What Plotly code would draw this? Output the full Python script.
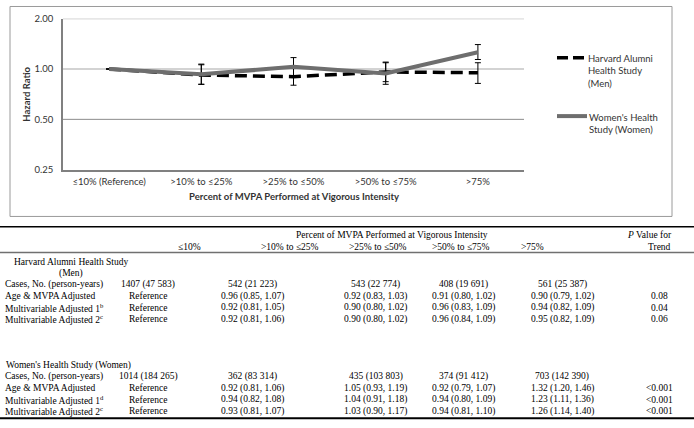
import plotly.graph_objects as go

W, H = 694, 428

# ---------------- data ----------------
categories = ["≤10% (Reference)", ">10% to ≤25%", ">25% to ≤50%", ">50% to ≤75%", ">75%"]
men_hr = [1.00, 0.92, 0.90, 0.96, 0.95]
men_lo = [None, 0.81, 0.80, 0.84, 0.82]
men_hi = [None, 1.06, 1.02, 1.09, 1.09]
women_hr = [1.00, 0.93, 1.03, 0.94, 1.26]
women_lo = [None, 0.81, 0.90, 0.81, 1.14]
women_hi = [None, 1.07, 1.17, 1.10, 1.40]
y_tickvals = [0.25, 0.5, 1.0, 2.0]
y_ticktext = ["0.25", "0.50", "1.00", "2.00"]

table_header_cols = ["≤10%", ">10% to ≤25%", ">25% to ≤50%", ">50% to ≤75%", ">75%"]
men_cases = ["1407 (47 583)", "542 (21 223)", "543 (22 774)", "408 (19 691)", "561 (25 387)"]
men_age = ["Reference", "0.96 (0.85, 1.07)", "0.92 (0.83, 1.03)", "0.91 (0.80, 1.02)", "0.90 (0.79, 1.02)"]
men_mv1 = ["Reference", "0.92 (0.81, 1.05)", "0.90 (0.80, 1.02)", "0.96 (0.83, 1.09)", "0.94 (0.82, 1.09)"]
men_mv2 = ["Reference", "0.92 (0.81, 1.06)", "0.90 (0.80, 1.02)", "0.96 (0.84, 1.09)", "0.95 (0.82, 1.09)"]
men_p = ["", "0.08", "0.04", "0.06"]
women_cases = ["1014 (184 265)", "362 (83 314)", "435 (103 803)", "374 (91 412)", "703 (142 390)"]
women_age = ["Reference", "0.92 (0.81, 1.06)", "1.05 (0.93, 1.19)", "0.92 (0.79, 1.07)", "1.32 (1.20, 1.46)"]
women_mv1 = ["Reference", "0.94 (0.82, 1.08)", "1.04 (0.91, 1.18)", "0.94 (0.80, 1.09)", "1.23 (1.11, 1.36)"]
women_mv2 = ["Reference", "0.93 (0.81, 1.07)", "1.03 (0.90, 1.17)", "0.94 (0.81, 1.10)", "1.26 (1.14, 1.40)"]
women_p = ["", "<0.001", "<0.001", "<0.001"]
men_row_labels = ["Cases, No. (person-years)", "Age &amp; MVPA Adjusted",
                  "Multivariable Adjusted 1<sup>b</sup>", "Multivariable Adjusted 2<sup>c</sup>"]
women_row_labels = ["Cases, No. (person-years)", "Age &amp; MVPA Adjusted",
                    "Multivariable Adjusted 1<sup>d</sup>", "Multivariable Adjusted 2<sup>c</sup>"]


def px(x):
    return x / W


def py(y):
    return 1 - y / H


def err_plus(hr, hi):
    return [None if h is None else round(h - v, 4) for v, h in zip(hr, hi)]


def err_minus(hr, lo):
    return [None if l is None else round(v - l, 4) for v, l in zip(hr, lo)]


fig = go.Figure()
fig.add_trace(go.Scatter(
    x=categories, y=men_hr, mode="lines", name="Harvard Alumni Health Study (Men)",
    line=dict(color="black", width=3.5, dash="12px,6px"),
    error_y=dict(type="data", symmetric=False, array=err_plus(men_hr, men_hi),
                 arrayminus=err_minus(men_hr, men_lo), color="black", thickness=1, width=3),
    showlegend=False))
fig.add_trace(go.Scatter(
    x=categories, y=women_hr, mode="lines", name="Women's Health Study (Women)",
    line=dict(color="#6e6e6e", width=4),
    error_y=dict(type="data", symmetric=False, array=err_plus(women_hr, women_hi),
                 arrayminus=err_minus(women_hr, women_lo), color="black", thickness=1, width=3),
    showlegend=False))

chart_font = "Lato, 'Open Sans', sans-serif"
serif = "'Liberation Serif', 'Times New Roman', serif"
tcol = "#333333"
tsize = 9.5

fig.update_layout(
    width=W, height=H, margin=dict(l=0, r=0, t=0, b=0),
    paper_bgcolor="white", plot_bgcolor="white", showlegend=False,
    xaxis=dict(domain=[px(63), px(524)], range=[-0.5, 4.5], type="category",
               showgrid=False, showline=True, linecolor="#808080", linewidth=2,
               ticks="", ticklabelstandoff=2,
               tickfont=dict(family=chart_font, size=9.5, color=tcol)),
    yaxis=dict(domain=[py(168), py(13)], type="log", range=[-0.60206, 0.30103],
               tickvals=y_tickvals, ticktext=y_ticktext, showgrid=False,
               showline=True, linecolor="#808080",
               linewidth=1.5, ticks="", ticklabelstandoff=6, zeroline=False,
               tickfont=dict(family=chart_font, size=9.5, color=tcol)),
)

shapes = []
# horizontal gridlines (lighter at the reference value 1.00)
for gv in y_tickvals[1:]:
    shapes.append(dict(type="line", xref="x domain", yref="y", x0=0, x1=1, y0=gv, y1=gv,
                       line=dict(color="#c4c4c4" if gv == 1.0 else "#8c8c8c",
                                 width=1.5 if gv == 1.0 else 1), layer="below"))
# chart frame
shapes.append(dict(type="rect", xref="paper", yref="paper", x0=px(10), x1=px(672),
                   y0=py(216), y1=py(0.5), line=dict(color="#9a9a9a", width=1)))
# legend keys
shapes.append(dict(type="line", xref="paper", yref="paper", x0=px(557), x1=px(584),
                   y0=py(53), y1=py(53), line=dict(color="black", width=3.5, dash="11px,5px")))
shapes.append(dict(type="line", xref="paper", yref="paper", x0=px(557), x1=px(587),
                   y0=py(113), y1=py(113), line=dict(color="#6e6e6e", width=4)))
# table rules
shapes.append(dict(type="line", xref="paper", yref="paper", x0=0, x1=1,
                   y0=py(226.5), y1=py(226.5), line=dict(color="black", width=1.5)))
shapes.append(dict(type="line", xref="paper", yref="paper", x0=0, x1=1,
                   y0=py(253), y1=py(253), line=dict(color="#707070", width=1.5)))
shapes.append(dict(type="line", xref="paper", yref="paper", x0=0, x1=1,
                   y0=py(423), y1=py(423), line=dict(color="black", width=2)))

ann = []


def text(x, y, s, xanchor="center", font=serif, size=tsize, color="black", bold=False, **kw):
    if bold:
        s = "<b>" + s + "</b>"
    ann.append(dict(x=px(x), y=py(y), xref="paper", yref="paper", text=s, showarrow=False,
                    xanchor=xanchor, yanchor="middle", align="left" if xanchor == "left" else "center",
                    font=dict(family=font, size=size, color=color), **kw))


# chart titles
text(294, 196, "Percent of MVPA Performed at Vigorous Intensity", font=chart_font, size=9.5,
     color=tcol, bold=True)
ann.append(dict(x=px(27), y=py(91), xref="paper", yref="paper", text="<b>Hazard Ratio</b>",
                showarrow=False, textangle=-90, xanchor="center", yanchor="middle",
                font=dict(family=chart_font, size=9.5, color=tcol)))
# legend texts
ann.append(dict(x=px(586), y=py(46.5), xref="paper", yref="paper",
                text="Harvard Alumni<br>Health Study<br>(Men)", showarrow=False,
                xanchor="left", yanchor="top", align="left",
                font=dict(family=chart_font, size=9.5, color=tcol)))
ann.append(dict(x=px(587), y=py(106.5), xref="paper", yref="paper",
                text="Women's Health<br>Study (Women)", showarrow=False,
                xanchor="left", yanchor="top", align="left",
                font=dict(family=chart_font, size=9.5, color=tcol)))

# table header
text(392, 235, "Percent of MVPA Performed at Vigorous Intensity")
header_x = [190, 290, 378, 461, 532]
for hx, h in zip(header_x, table_header_cols):
    text(hx, 247, h)
text(649, 235, "<i>P</i> Value for")
text(659, 247, "Trend")

col_x = [148, 252, 376, 463, 562]
p_x = 659

text(71, 262.5, "Harvard Alumni Health Study")
text(71, 274.3, "(Men)")
men_rows = [men_cases, men_age, men_mv1, men_mv2]
men_y = [286.1, 297.9, 309.7, 321.5]
for lab, row, yy, pv in zip(men_row_labels, men_rows, men_y, men_p):
    text(3, yy, lab, xanchor="left")
    for cx, v in zip(col_x, row):
        text(cx, yy, v)
    if pv:
        text(p_x, yy, pv)

text(4, 368.7, "Women's Health Study (Women)", xanchor="left")
women_rows = [women_cases, women_age, women_mv1, women_mv2]
women_y = [380.5, 392.3, 404.1, 415.9]
for lab, row, yy, pv in zip(women_row_labels, women_rows, women_y, women_p):
    text(3, yy, lab, xanchor="left")
    for cx, v in zip(col_x, row):
        text(cx, yy, v)
    if pv:
        text(p_x, yy, pv)

fig.update_layout(shapes=shapes, annotations=ann)
fig.write_html("out.html", config={"displayModeBar": False},
               post_script="document.body.style.margin='0px';")
